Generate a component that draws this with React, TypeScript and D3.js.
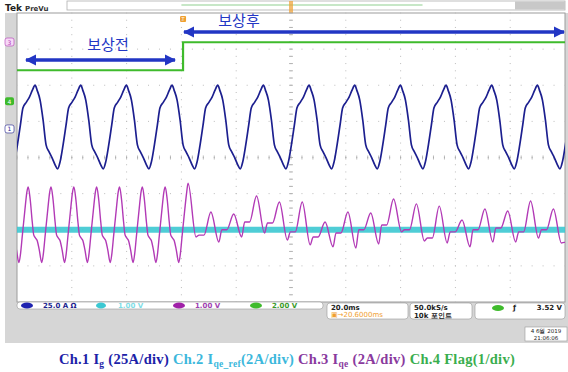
import * as d3 from "d3";

// time axis: 20 ms/div, 10 divisions
const TIME_TICKS = [0, 20, 40, 60, 80, 100, 120, 140, 160, 180, 200];
const DIV_TICKS = [-4, -3, -2, -1, 0, 1, 2, 3, 4];

// Ch.1 Ig (A), one 60 Hz cycle starting at the peak: [ms from peak, amps]
const CH1_PERIOD = 1000 / 60;
const CH1_FIRST_PEAK = 6.6;
const CH1_CYCLE: [number, number][] = [
  [0, 30.3], [0.73, 26.9], [1.83, 20.0], [2.92, 6.2], [4.01, -11.0], [5.11, -15.9],
  [6.2, -20.0], [7.3, -24.8], [8.21, -27.6], [9.12, -22.8], [10.22, -11.0],
  [11.31, 2.8], [12.23, 14.5], [13.5, 18.6], [14.6, 22.1], [15.69, 26.9],
];

// Ch.3 Iqe (A), 120 Hz ripple
const CH3_PERIOD = 1000 / 120;
const CH3_FIRST_PEAK = 4.1;
// before compensation: [ms from peak, amps]
const CH3_BEFORE: [number, number][] = [
  [0, 2.37], [0.73, 1.66], [1.46, 0.44], [2.0, -0.28], [2.56, -0.44], [3.29, -0.61],
  [4.01, -1.1], [4.93, -1.82], [5.48, -1.38], [6.2, -0.28], [7.12, 1.1], [7.85, 2.1],
];
const CH3_BEFORE_CYCLES = 7;
// after compensation: per-cycle peak, trough and plateau (amps)
const CH3_AFTER_PEAK = [2.58, 0.98, 0.87, 1.87, 1.54, 1.54, 0.43, 0.98, 0.93, 1.7, 1.43, 1.31, 0.54, 1.15, 1.04, 1.59, 1.15];
const CH3_AFTER_TROUGH = [-0.4, -0.68, -0.4, -0.18, -0.57, -0.84, -0.95, -1.01, -0.79, -0.12, -0.62, -0.73, -0.95, -0.68, -0.68, -0.46, -0.73];
const CH3_AFTER_PLATEAU = [-0.3, 0, 0.43, 0.37, -0.12, -0.4, -0.18, 0, 0.26, 0, -0.46, -0.12, 0, 0.1, -0.12, 0, -0.7];
// [ms from peak] of trough, plateau start, plateau end
const CH3_AFTER_TIMES = [2.9, 4.0, 5.8];

// Ch.2 Iqe_ref (A) and Ch.4 flag (V)
const CH2_LEVEL = 0;
const CH4_LEVELS = [1.71, 3.26];
const SWITCH_MS = 60.6;

const W = 568;
const H = 372;
const PL = 17, PR = 565, PT = 13, PB = 302;

const BLUE = "#1c1f8f";
const CYAN = "#3cc8d2";
const MAGENTA = "#b23ab6";
const GREEN = "#3fbb2c";
const NOTE = "#2236c4";

export default function App() {
  const x = d3.scaleLinear().domain([0, 200]).range([PL, PR]);
  const yDiv = d3.scaleLinear().domain([-4, 4]).range([PB, PT]);
  const ch = (offset: number, perDiv: number) => (v: number) => yDiv(offset + v / perDiv);
  const y1 = ch(0.79, 25);
  const y23 = ch(-2, 2);
  const y4 = ch(1.56, 2);

  // ch1 points
  const ch1: [number, number][] = [];
  for (let k = -1; k <= 12; k++) {
    const t0 = CH1_FIRST_PEAK + k * CH1_PERIOD;
    CH1_CYCLE.forEach(([o, v]) => ch1.push([t0 + o, v]));
  }

  // ch3 points
  const ch3: [number, number][] = [];
  for (let k = -1; k < CH3_BEFORE_CYCLES; k++) {
    const t0 = CH3_FIRST_PEAK + k * CH3_PERIOD;
    CH3_BEFORE.forEach(([o, v]) => ch3.push([t0 + o, v]));
  }
  CH3_AFTER_PEAK.forEach((p, i) => {
    const t0 = CH3_FIRST_PEAK + (CH3_BEFORE_CYCLES + i) * CH3_PERIOD;
    ch3.push([t0, p]);
    ch3.push([t0 + CH3_AFTER_TIMES[0], CH3_AFTER_TROUGH[i]]);
    ch3.push([t0 + CH3_AFTER_TIMES[1], CH3_AFTER_PLATEAU[i]]);
    ch3.push([t0 + CH3_AFTER_TIMES[2], CH3_AFTER_PLATEAU[i]]);
  });

  const line1 = d3.line<[number, number]>().x((d) => x(d[0])).y((d) => y1(d[1])).curve(d3.curveMonotoneX);
  const line3 = d3.line<[number, number]>().x((d) => x(d[0])).y((d) => y23(d[1])).curve(d3.curveMonotoneX);
  const line4 = d3.line<[number, number]>().x((d) => x(d[0])).y((d) => y4(d[1]));
  const ch4: [number, number][] = [
    [0, CH4_LEVELS[0]], [SWITCH_MS, CH4_LEVELS[0]], [SWITCH_MS, CH4_LEVELS[1]], [200, CH4_LEVELS[1]],
  ];

  // minor grid dots
  const dots: JSX.Element[] = [];
  TIME_TICKS.slice(1, -1).forEach((t) => {
    for (let j = 0; j <= 40; j++) {
      const yy = yDiv(-4 + j * 0.2);
      dots.push(<rect key={`v${t}-${j}`} x={x(t) - 0.5} y={yy - 0.5} width={1} height={1} fill="#bcbcbc" />);
    }
  });
  DIV_TICKS.slice(1, -1).forEach((d) => {
    for (let j = 0; j <= 50; j++) {
      const xx = x(j * 4);
      dots.push(<rect key={`h${d}-${j}`} x={xx - 0.5} y={yDiv(d) - 0.5} width={1} height={1} fill="#bcbcbc" />);
    }
  });
  const cx = x(100), cy = yDiv(0);
  const centerTicks: JSX.Element[] = [];
  for (let j = 0; j <= 40; j++) {
    const yy = yDiv(-4 + j * 0.2);
    centerTicks.push(<line key={`cv${j}`} x1={cx - 2} x2={cx + 2} y1={yy} y2={yy} stroke="#a8a8a8" strokeWidth={0.8} />);
  }
  for (let j = 0; j <= 50; j++) {
    const xx = x(j * 4);
    centerTicks.push(<line key={`ch${j}`} x1={xx} x2={xx} y1={cy - 2} y2={cy + 2} stroke="#a8a8a8" strokeWidth={0.8} />);
  }

  const small = { fontFamily: "DejaVu Sans", fontSize: 7, fontWeight: 700 } as const;

  return (
    <svg width={W} height={H} style={{ position: "absolute", left: 0, top: 0 }}>
      <defs>
        <clipPath id="plot">
          <rect x={PL} y={PT} width={PR - PL} height={PB - PT} />
        </clipPath>
        <marker id="ah" viewBox="0 0 10 10" refX={9} refY={5} markerWidth={3.2} markerHeight={3.2} orient="auto-start-reverse">
          <path d="M0,0 L10,5 L0,10 z" fill={NOTE} />
        </marker>
      </defs>
      <rect width={W} height={H} fill="#fff" />
      {/* scope frame */}
      <rect x={5} y={13} width={563} height={330} fill="#d6d6d6" />
      <rect x={PL} y={PT} width={PR - PL} height={PB - PT} fill="#fff" stroke="#9c9c9c" strokeWidth={1} />
      <text x={5} y={11} fontFamily="DejaVu Sans" fontSize={9} fontWeight={700} fill="#222">Tek</text>
      <text x={25} y={11} fontFamily="DejaVu Sans" fontSize={7} fontWeight={700} fill="#333">PreVu</text>
      <rect x={67} y={1} width={498} height={9} fill="#fff" stroke="#b0b0b0" strokeWidth={0.8} />
      <line x1={x(60)} x2={x(148)} y1={5} y2={5} stroke="#8fd08f" strokeWidth={1.2} />
      <rect x={515} y={1.5} width={50} height={8} fill="#c8c8c8" />
      <rect x={cx - 2} y={1} width={4} height={12} fill="#f0a030" opacity={0.7} />
      <rect x={x(SWITCH_MS) - 3} y={16} width={6} height={6} rx={1} fill="#f0a030" />
      <text x={x(SWITCH_MS)} y={21} textAnchor="middle" fontSize={5} fontFamily="DejaVu Sans" fill="#fff">T</text>

      {/* grid */}
      {dots}
      {centerTicks}

      <g clipPath="url(#plot)" fill="none">
        <line x1={PL} x2={PR} y1={y23(CH2_LEVEL)} y2={y23(CH2_LEVEL)} stroke={CYAN} strokeWidth={6} opacity={0.9} />
        <path d={line3(ch3) ?? ""} stroke={MAGENTA} strokeWidth={1.4} />
        <path d={line1(ch1) ?? ""} stroke={BLUE} strokeWidth={1.7} />
        <path d={line4(ch4) ?? ""} stroke={GREEN} strokeWidth={2.2} />
      </g>

      {/* channel markers */}
      <rect x={5} y={38} width={9} height={8} rx={2} fill="#f6d8f6" stroke={MAGENTA} strokeWidth={0.6} />
      <text x={9.5} y={44.5} textAnchor="middle" fontSize={6} fontFamily="DejaVu Sans" fill={MAGENTA}>3</text>
      <rect x={5} y={y4(0) - 4} width={9} height={8} rx={2} fill={GREEN} />
      <text x={9.5} y={y4(0) + 2.5} textAnchor="middle" fontSize={6} fontFamily="DejaVu Sans" fill="#fff">4</text>
      <rect x={5} y={y1(0) - 4} width={9} height={8} rx={2} fill="#fff" stroke={BLUE} strokeWidth={0.6} />
      <text x={9.5} y={y1(0) + 2.5} textAnchor="middle" fontSize={6} fontFamily="DejaVu Sans" fill={BLUE}>1</text>

      {/* annotations */}
      <line x1={26} x2={175} y1={60} y2={60} stroke={NOTE} strokeWidth={3.5} markerStart="url(#ah)" markerEnd="url(#ah)" />
      <text x={108} y={50} textAnchor="middle" fontFamily="Noto Sans CJK KR" fontSize={15} fill={NOTE}>보상전</text>
      <line x1={184} x2={564} y1={32} y2={32} stroke={NOTE} strokeWidth={3.5} markerStart="url(#ah)" markerEnd="url(#ah)" />
      <text x={239} y={26} textAnchor="middle" fontFamily="Noto Sans CJK KR" fontSize={15} fill={NOTE}>보상후</text>

      {/* status bar */}
      <rect x={PL} y={302} width={306} height={7} rx={3} fill="#fff" stroke="#999" strokeWidth={0.6} />
      <ellipse cx={27} cy={305.5} rx={6} ry={3} fill="#1f23b0" />
      <text x={43} y={308} {...small} fill={BLUE}>25.0 A Ω</text>
      <ellipse cx={101} cy={305.5} rx={5} ry={3} fill={CYAN} />
      <text x={118} y={308} {...small} fill="#7fdde6">1.00 V</text>
      <ellipse cx={179} cy={305.5} rx={6} ry={3} fill="#a020a8" />
      <text x={195} y={308} {...small} fill="#a040b0">1.00 V</text>
      <ellipse cx={256} cy={305.5} rx={6} ry={3} fill={GREEN} />
      <text x={272} y={308} {...small} fill="#3a9a2a">2.00 V</text>
      <rect x={327} y={303} width={81} height={16} rx={3} fill="#fff" stroke="#999" strokeWidth={0.6} />
      <text x={331} y={310} {...small} fill="#222">20.0ms</text>
      <text x={331} y={317} {...small} fontWeight={400} fill="#f0a030">▣→20.6000ms</text>
      <rect x={410} y={303} width={62} height={16} rx={3} fill="#fff" stroke="#999" strokeWidth={0.6} />
      <text x={414} y={310} {...small} fill="#222">50.0kS/s</text>
      <text x={414} y={317.5} {...small} fill="#222">10k 포인트</text>
      <rect x={475} y={303} width={90} height={16} rx={3} fill="#fff" stroke="#999" strokeWidth={0.6} />
      <ellipse cx={498} cy={308} rx={6} ry={3} fill={GREEN} />
      <text x={513} y={310} {...small} fill="#222">ƒ</text>
      <text x={562} y={310} {...small} textAnchor="end" fill="#222">3.52 V</text>
      <rect x={525} y={327} width={42} height={14} fill="#fff" stroke="#999" strokeWidth={0.6} />
      <text x={546} y={333} textAnchor="middle" fontFamily="DejaVu Sans" fontSize={5.5} fill="#222">4 6월 2019</text>
      <text x={546} y={339.5} textAnchor="middle" fontFamily="DejaVu Sans" fontSize={5.5} fill="#222">21:06:06</text>

      {/* caption */}
      <text x={287} y={364} textAnchor="middle" fontFamily="Liberation Serif" fontSize={14.5} fontWeight={700} letterSpacing={0.3}>
        <tspan fill="#1c22a8">Ch.1 I</tspan>
        <tspan fill="#1c22a8" fontSize={9.5} dy={3}>g</tspan>
        <tspan fill="#1c22a8" dy={-3}> (25A/div) </tspan>
        <tspan fill="#3cb8dc">Ch.2 I</tspan>
        <tspan fill="#3cb8dc" fontSize={9.5} dy={3}>qe_ref</tspan>
        <tspan fill="#3cb8dc" dy={-3}>(2A/div) </tspan>
        <tspan fill="#8a3a9e">Ch.3 I</tspan>
        <tspan fill="#8a3a9e" fontSize={9.5} dy={3}>qe</tspan>
        <tspan fill="#8a3a9e" dy={-3}> (2A/div) </tspan>
        <tspan fill="#3aae4e">Ch.4  Flag(1/div)</tspan>
      </text>
    </svg>
  );
}
